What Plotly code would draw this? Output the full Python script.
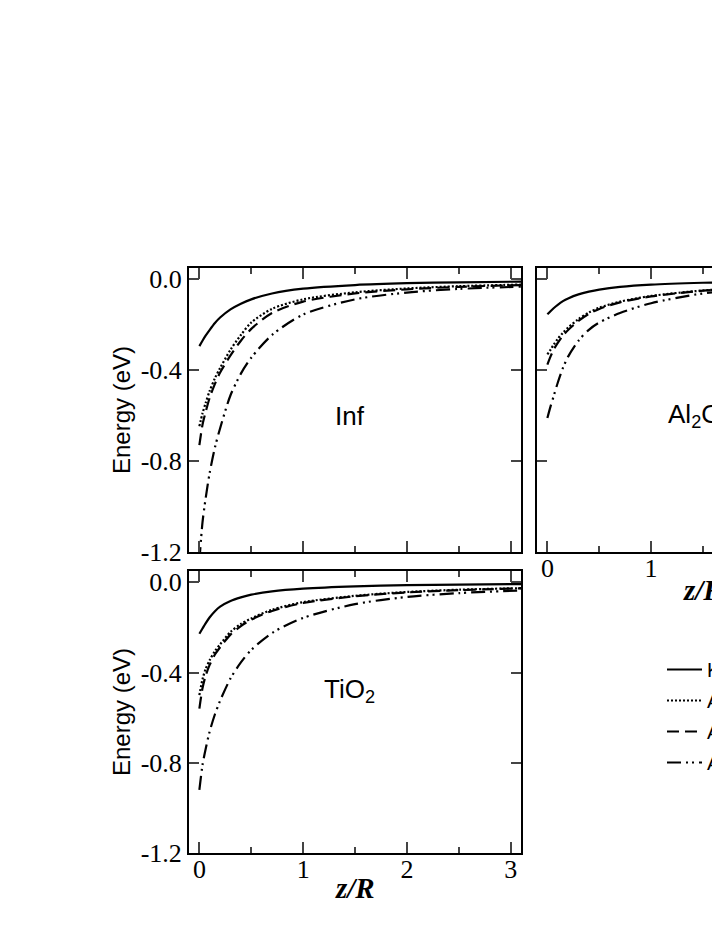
"""Image-potential energy curves for three substrates (Inf, Al2O3, TiO2)."""

import plotly.graph_objects as go

# ---- data ----
z = [0, 0.03, 0.06, 0.1, 0.15, 0.2, 0.3, 0.4, 0.5, 0.7, 1.0, 1.5, 2.0, 2.5, 3.1]

series_names = ["Kelvin", "Approx. I", "Approx. II", "Approx. III"]

inf_solid = [-0.294, -0.27, -0.248, -0.222, -0.192, -0.168, -0.132, -0.107, -0.088, -0.062, -0.041, -0.025, -0.017, -0.013, -0.01]
inf_dot = [-0.647, -0.59, -0.545, -0.49, -0.435, -0.39, -0.31, -0.245, -0.19, -0.13, -0.088, -0.057, -0.04, -0.03, -0.023]
inf_dash = [-0.73, -0.64, -0.585, -0.52, -0.46, -0.41, -0.335, -0.27, -0.218, -0.148, -0.098, -0.062, -0.044, -0.033, -0.025]
inf_dashdot = [-1.24, -1.07, -0.965, -0.85, -0.74, -0.655, -0.51, -0.415, -0.345, -0.245, -0.155, -0.088, -0.058, -0.042, -0.032]

al_solid = [-0.154, -0.14, -0.127, -0.112, -0.096, -0.084, -0.066, -0.054, -0.045, -0.033, -0.023, -0.015, -0.01, -0.008, -0.006]
al_dot = [-0.33, -0.31, -0.288, -0.262, -0.235, -0.212, -0.175, -0.146, -0.125, -0.098, -0.073, -0.049, -0.036, -0.028, -0.021]
al_dash = [-0.375, -0.34, -0.31, -0.28, -0.248, -0.223, -0.183, -0.152, -0.13, -0.101, -0.075, -0.05, -0.037, -0.029, -0.022]
al_dashdot = [-0.61, -0.56, -0.515, -0.455, -0.39, -0.34, -0.27, -0.222, -0.19, -0.148, -0.105, -0.062, -0.042, -0.031, -0.023]

ti_solid = [-0.228, -0.205, -0.182, -0.155, -0.128, -0.108, -0.083, -0.067, -0.055, -0.04, -0.028, -0.018, -0.013, -0.01, -0.008]
ti_dot = [-0.5, -0.43, -0.385, -0.345, -0.305, -0.275, -0.22, -0.185, -0.16, -0.122, -0.088, -0.06, -0.043, -0.033, -0.026]
ti_dash = [-0.56, -0.47, -0.415, -0.365, -0.32, -0.288, -0.232, -0.194, -0.166, -0.127, -0.092, -0.062, -0.045, -0.035, -0.027]
ti_dashdot = [-0.92, -0.81, -0.74, -0.66, -0.585, -0.525, -0.426, -0.355, -0.3, -0.225, -0.158, -0.097, -0.065, -0.048, -0.036]

x_ticks = [0, 1, 2, 3]
y_ticks = [0.0, -0.4, -0.8, -1.2]
y_ticktext = ["0.0", "-0.4", "-0.8", "-1.2"]

DASHES = ["solid", "2px,2px", "12px,6px", "14px,5px,2px,4px,2px,5px"]
SERIF = "Liberation Serif"
SANS = "Liberation Sans"
W, H = 720, 931
OFF = 8  # page body margin

panels = [
    ("x", "y", [inf_solid, inf_dot, inf_dash, inf_dashdot]),
    ("x2", "y2", [al_solid, al_dot, al_dash, al_dashdot]),
    ("x3", "y3", [ti_solid, ti_dot, ti_dash, ti_dashdot]),
]

fig = go.Figure()
for p, (xa, ya, curves) in enumerate(panels):
    for i, vals in enumerate(curves):
        fig.add_trace(go.Scatter(
            x=z, y=vals, xaxis=xa, yaxis=ya, mode="lines",
            line=dict(color="black", width=2.2, dash=DASHES[i], shape="spline", smoothing=0.8),
            name=series_names[i], legendgroup=series_names[i], showlegend=(p == 0),
        ))


def x_axis(domain, rng, labels, anchor):
    return dict(
        domain=domain, range=rng, anchor=anchor,
        tickvals=x_ticks, ticks="inside", ticklen=11, tickwidth=2,
        minor=dict(dtick=0.5, tick0=0, ticks="inside", ticklen=6, tickwidth=2),
        showticklabels=labels, mirror="ticks", showline=True, linewidth=2,
        linecolor="black", showgrid=False, zeroline=False,
        tickfont=dict(family=SERIF, size=26), ticklabelstandoff=-8,
    )


def y_axis(domain, labels, anchor, mirror="ticks"):
    return dict(
        domain=domain, range=[-1.2, 0.05], anchor=anchor,
        tickvals=y_ticks, ticktext=y_ticktext, ticks="inside", ticklen=10, tickwidth=2,
        showticklabels=labels, mirror=mirror, showline=True, linewidth=2,
        linecolor="black", showgrid=False, zeroline=False,
        tickfont=dict(family=SERIF, size=26),
    )


def ydom(top, bottom):
    return [1 - (bottom - OFF) / H, 1 - (top - OFF) / H]


def xdom(left, right):
    return [(left - OFF) / W, min(1.0, (right - OFF) / W)]


top_dom = ydom(268, 552)
bot_dom = ydom(571, 853)
left_dom = xdom(189, 521)
right_dom = xdom(537, 870)
px_per_unit = (521 - 189) / 3.2
right_max = -0.1 + (W - (537 - OFF)) / px_per_unit

ytitle = dict(text="Energy (eV)", font=dict(family=SANS, size=24), standoff=3)
label_font = dict(family=SANS, size=26)
ztitle_font = dict(family=SERIF, size=29)

fig.update_layout(
    width=W, height=H,
    margin=dict(l=0, r=0, t=0, b=0, autoexpand=False),
    paper_bgcolor="white", plot_bgcolor="white",
    font=dict(family=SERIF, size=20, color="black"),
    xaxis=x_axis(left_dom, [-0.1, 3.1], False, "y"),
    yaxis=dict(y_axis(top_dom, True, "x"), title=ytitle),
    xaxis2=x_axis(right_dom, [-0.1, right_max], True, "y2"),
    yaxis2=y_axis(top_dom, False, "x2", mirror=False),
    xaxis3=x_axis(left_dom, [-0.1, 3.1], True, "y3"),
    yaxis3=dict(y_axis(bot_dom, True, "x3"), title=ytitle),
    legend=dict(
        x=(667 - OFF - 5) / W, y=1 - (650 - OFF) / H, xanchor="left", yanchor="top",
        font=dict(family=SANS, size=20), bgcolor="rgba(0,0,0,0)",
        tracegroupgap=2, itemwidth=35,
    ),
    annotations=[
        dict(text="Inf", x=1.45, y=-0.6, xref="x", yref="y", showarrow=False, font=label_font),
        dict(text="Al<sub>2</sub>O<sub>3</sub>", x=1.47, y=-0.6, xref="x2", yref="y2",
             showarrow=False, font=label_font),
        dict(text="TiO<sub>2</sub>", x=1.45, y=-0.48, xref="x3", yref="y3", showarrow=False,
             font=label_font),
        dict(text="<b><i>z/R</i></b>", x=1.5, y=1 - (590 - OFF) / H, xref="x2", yref="paper",
             yanchor="middle", showarrow=False, font=ztitle_font),
        dict(text="<b><i>z/R</i></b>", x=1.5, y=1 - (888 - OFF) / H, xref="x3", yref="paper",
             yanchor="middle", showarrow=False, font=ztitle_font),
    ],
)

fig.write_html("out.html")
